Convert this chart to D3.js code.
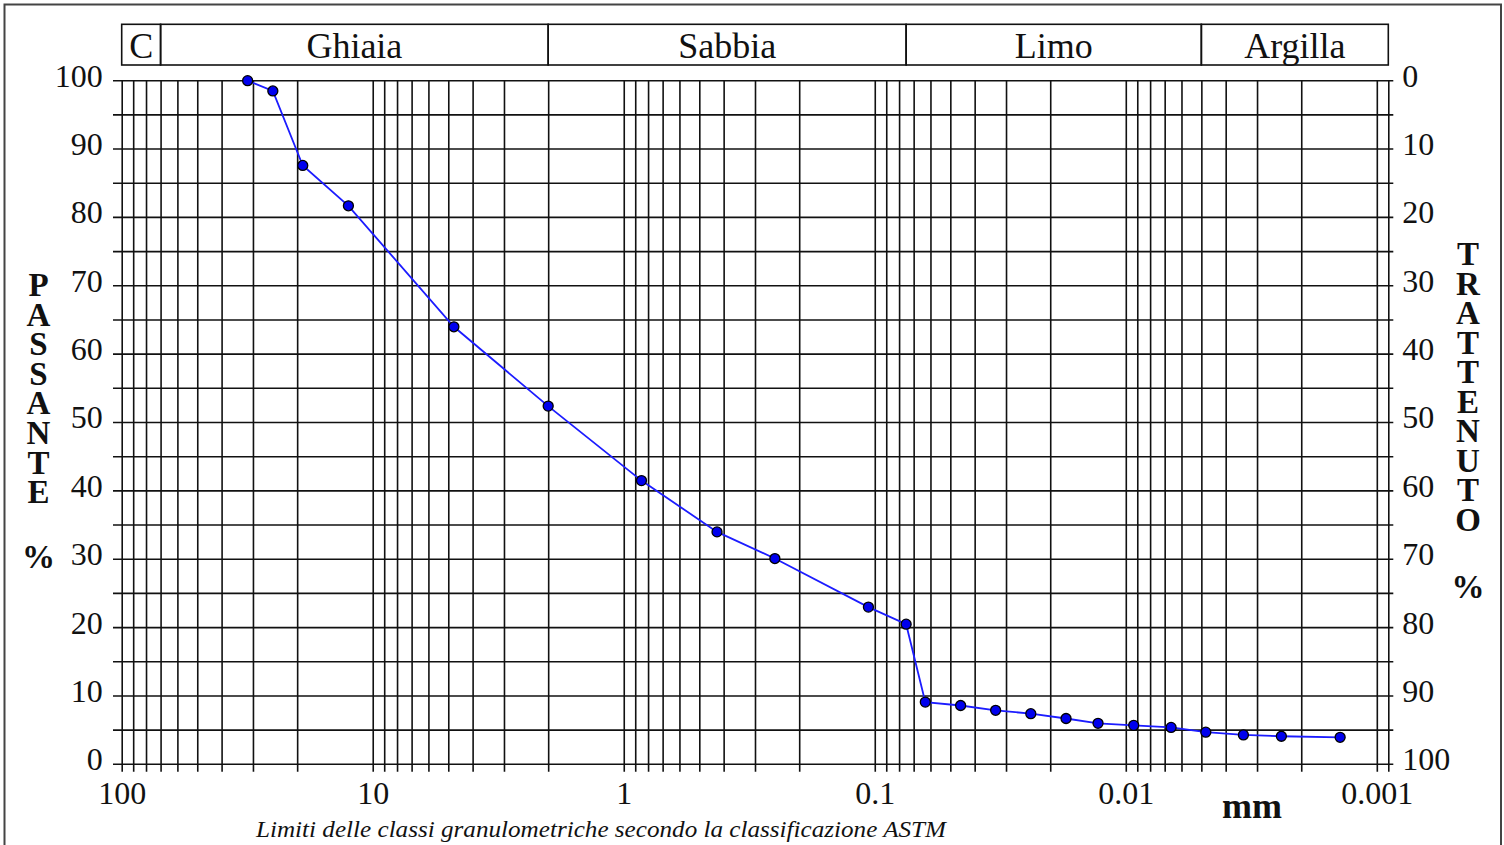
<!DOCTYPE html>
<html>
<head>
<meta charset="utf-8">
<script src="https://cdn.jsdelivr.net/npm/d3@7"></script>
<style>
  html, body { margin: 0; padding: 0; background: #fff; }
  svg { display: block; }
  svg text { font-family: "Liberation Serif", "Times New Roman", serif; fill: #111; }
  .vert { writing-mode: vertical-rl; text-orientation: upright; }
</style>
</head>
<body>
<svg id="chart" width="1504" height="845"></svg>
<script>
// ---- data ----
const diameters = [31.5, 25, 19, 12.5, 4.75, 2, 0.85, 0.425, 0.25, 0.106, 0.075,
                   0.0629, 0.0455, 0.033, 0.0239, 0.0173, 0.0129, 0.0093, 0.0066, 0.0048, 0.0034, 0.0024, 0.0014];
const passing   = [100, 98.5, 87.6, 81.7, 64.0, 52.4, 41.5, 34.0, 30.1, 23.0, 20.5,
                   9.1, 8.6, 7.9, 7.4, 6.7, 6.0, 5.7, 5.4, 4.7, 4.3, 4.1, 3.95];
const classNames  = ["C", "Ghiaia", "Sabbia", "Limo", "Argilla"];
const classLimits = [100, 70, 2, 0.075, 0.005, 0.0009];
const xTickLabels = [100, 10, 1, 0.1, 0.01, 0.001];
const yTicks      = d3.range(0, 101, 5);
const yLabelTicks = d3.range(0, 101, 10);
const leftTitle   = "PASSANTE";
const rightTitle  = "TRATTENUTO";
const unitLabel   = "mm";
const caption     = "Limiti delle classi granulometriche secondo la classificazione ASTM";

// ---- layout ----
const FONT = "Liberation Serif";
const svg = d3.select("#chart");
const L = 121.7, R = 1388.3, T = 80.7, B = 764.3;
const x = d3.scaleLog().base(10).domain([100, 0.0009]).range([L, R]);
const y = d3.scaleLinear().domain([0, 100]).range([B, T]);
const gridColor = "#111";

// outer frame
svg.append("rect").attr("x", 4.5).attr("y", 4.5).attr("width", 1496.5).attr("height", 860)
  .attr("fill", "none").attr("stroke", "#444").attr("stroke-width", 2);

// horizontal grid lines (every 5)
svg.append("g").selectAll("line").data(yTicks).join("line")
  .attr("x1", L - 8.7).attr("x2", R + 5)
  .attr("y1", d => y(d)).attr("y2", d => y(d))
  .attr("stroke", gridColor).attr("stroke-width", 1.6);

// vertical grid + bottom axis labels
const xAxis = d3.axisBottom(x)
  .tickValues(x.ticks())
  .tickSizeInner(-(B - T) - 7.4)
  .tickSizeOuter(0)
  .tickPadding(10)
  .tickFormat(d => xTickLabels.some(v => Math.abs(v - d) / v < 1e-6) ? String(+d.toPrecision(3)) : "");
const gx = svg.append("g").attr("transform", `translate(0,${B + 7.4})`).call(xAxis)
  .attr("font-family", FONT);
gx.select(".domain").remove();
gx.selectAll(".tick line").attr("stroke", gridColor).attr("stroke-width", 1.6);
gx.selectAll(".tick text").attr("font-size", 32).attr("font-family", FONT).attr("fill", "#111");

// left axis labels
const yAxisL = d3.axisLeft(y).tickValues(yLabelTicks).tickSize(0).tickPadding(19);
const gyl = svg.append("g").attr("transform", `translate(${L},0)`).call(yAxisL).attr("font-family", FONT);
gyl.select(".domain").remove();
gyl.selectAll(".tick text").attr("font-size", 32).attr("dy", "0.17em").attr("font-family", FONT).attr("fill", "#111");

// right axis labels (retained %)
const yAxisR = d3.axisRight(y).tickValues(yLabelTicks).tickSize(0).tickPadding(14)
  .tickFormat(d => String(100 - d));
const gyr = svg.append("g").attr("transform", `translate(${R},0)`).call(yAxisR).attr("font-family", FONT);
gyr.select(".domain").remove();
gyr.selectAll(".tick text").attr("font-size", 32).attr("dy", "0.17em").attr("font-family", FONT).attr("fill", "#111");

// header class boxes
const cells = classNames.map((n, i) => ({ name: n, a: classLimits[i], b: classLimits[i + 1] }));
const hTop = 24.3, hBot = 65;
const hg = svg.append("g");
hg.selectAll("rect").data(cells).join("rect")
  .attr("x", d => x(d.a)).attr("width", d => x(d.b) - x(d.a))
  .attr("y", hTop).attr("height", hBot - hTop)
  .attr("fill", "none").attr("stroke", gridColor).attr("stroke-width", 1.6);
hg.selectAll("text").data(cells).join("text")
  .attr("x", d => (x(d.a) + x(d.b)) / 2).attr("y", 58)
  .attr("text-anchor", "middle").attr("font-size", 36).attr("font-family", FONT)
  .text(d => d.name);

// curve
const pts = diameters.map((d, i) => ({ d, p: passing[i] }));
const line = d3.line().x(d => x(d.d)).y(d => y(d.p));
svg.append("path").datum(pts).attr("d", line)
  .attr("fill", "none").attr("stroke", "#1c1cff").attr("stroke-width", 1.8);
svg.append("g").selectAll("circle").data(pts).join("circle")
  .attr("cx", d => x(d.d)).attr("cy", d => y(d.p)).attr("r", 5)
  .attr("fill", "#0000ee").attr("stroke", "#000").attr("stroke-width", 1.3);

// vertical (stacked upright letters) titles: one text each, vertical writing mode
function stacked(word, cx, yTop, step) {
  svg.append("text").attr("class", "vert")
    .attr("x", cx).attr("y", yTop)
    .attr("font-size", 33).attr("font-weight", "bold").attr("font-family", FONT)
    .attr("textLength", word.length * step).attr("lengthAdjust", "spacing")
    .text(word);
}
stacked(leftTitle, 38.5, 267, 30.4);
svg.append("text").attr("x", 38.5).attr("y", 568).attr("text-anchor", "middle")
  .attr("font-size", 33).attr("font-weight", "bold").attr("font-family", FONT).text("%");
stacked(rightTitle, 1468, 236, 30.2);
svg.append("text").attr("x", 1468).attr("y", 598).attr("text-anchor", "middle")
  .attr("font-size", 33).attr("font-weight", "bold").attr("font-family", FONT).text("%");

// unit and caption
svg.append("text").attr("x", 1252).attr("y", 818).attr("text-anchor", "middle")
  .attr("font-size", 36).attr("font-weight", "bold").attr("font-family", FONT).text(unitLabel);
svg.append("text").attr("x", 601).attr("y", 837).attr("text-anchor", "middle")
  .attr("font-size", 23).attr("font-style", "italic").attr("font-family", FONT)
  .attr("textLength", 690).attr("lengthAdjust", "spacingAndGlyphs")
  .text(caption);
</script>
</body>
</html>
